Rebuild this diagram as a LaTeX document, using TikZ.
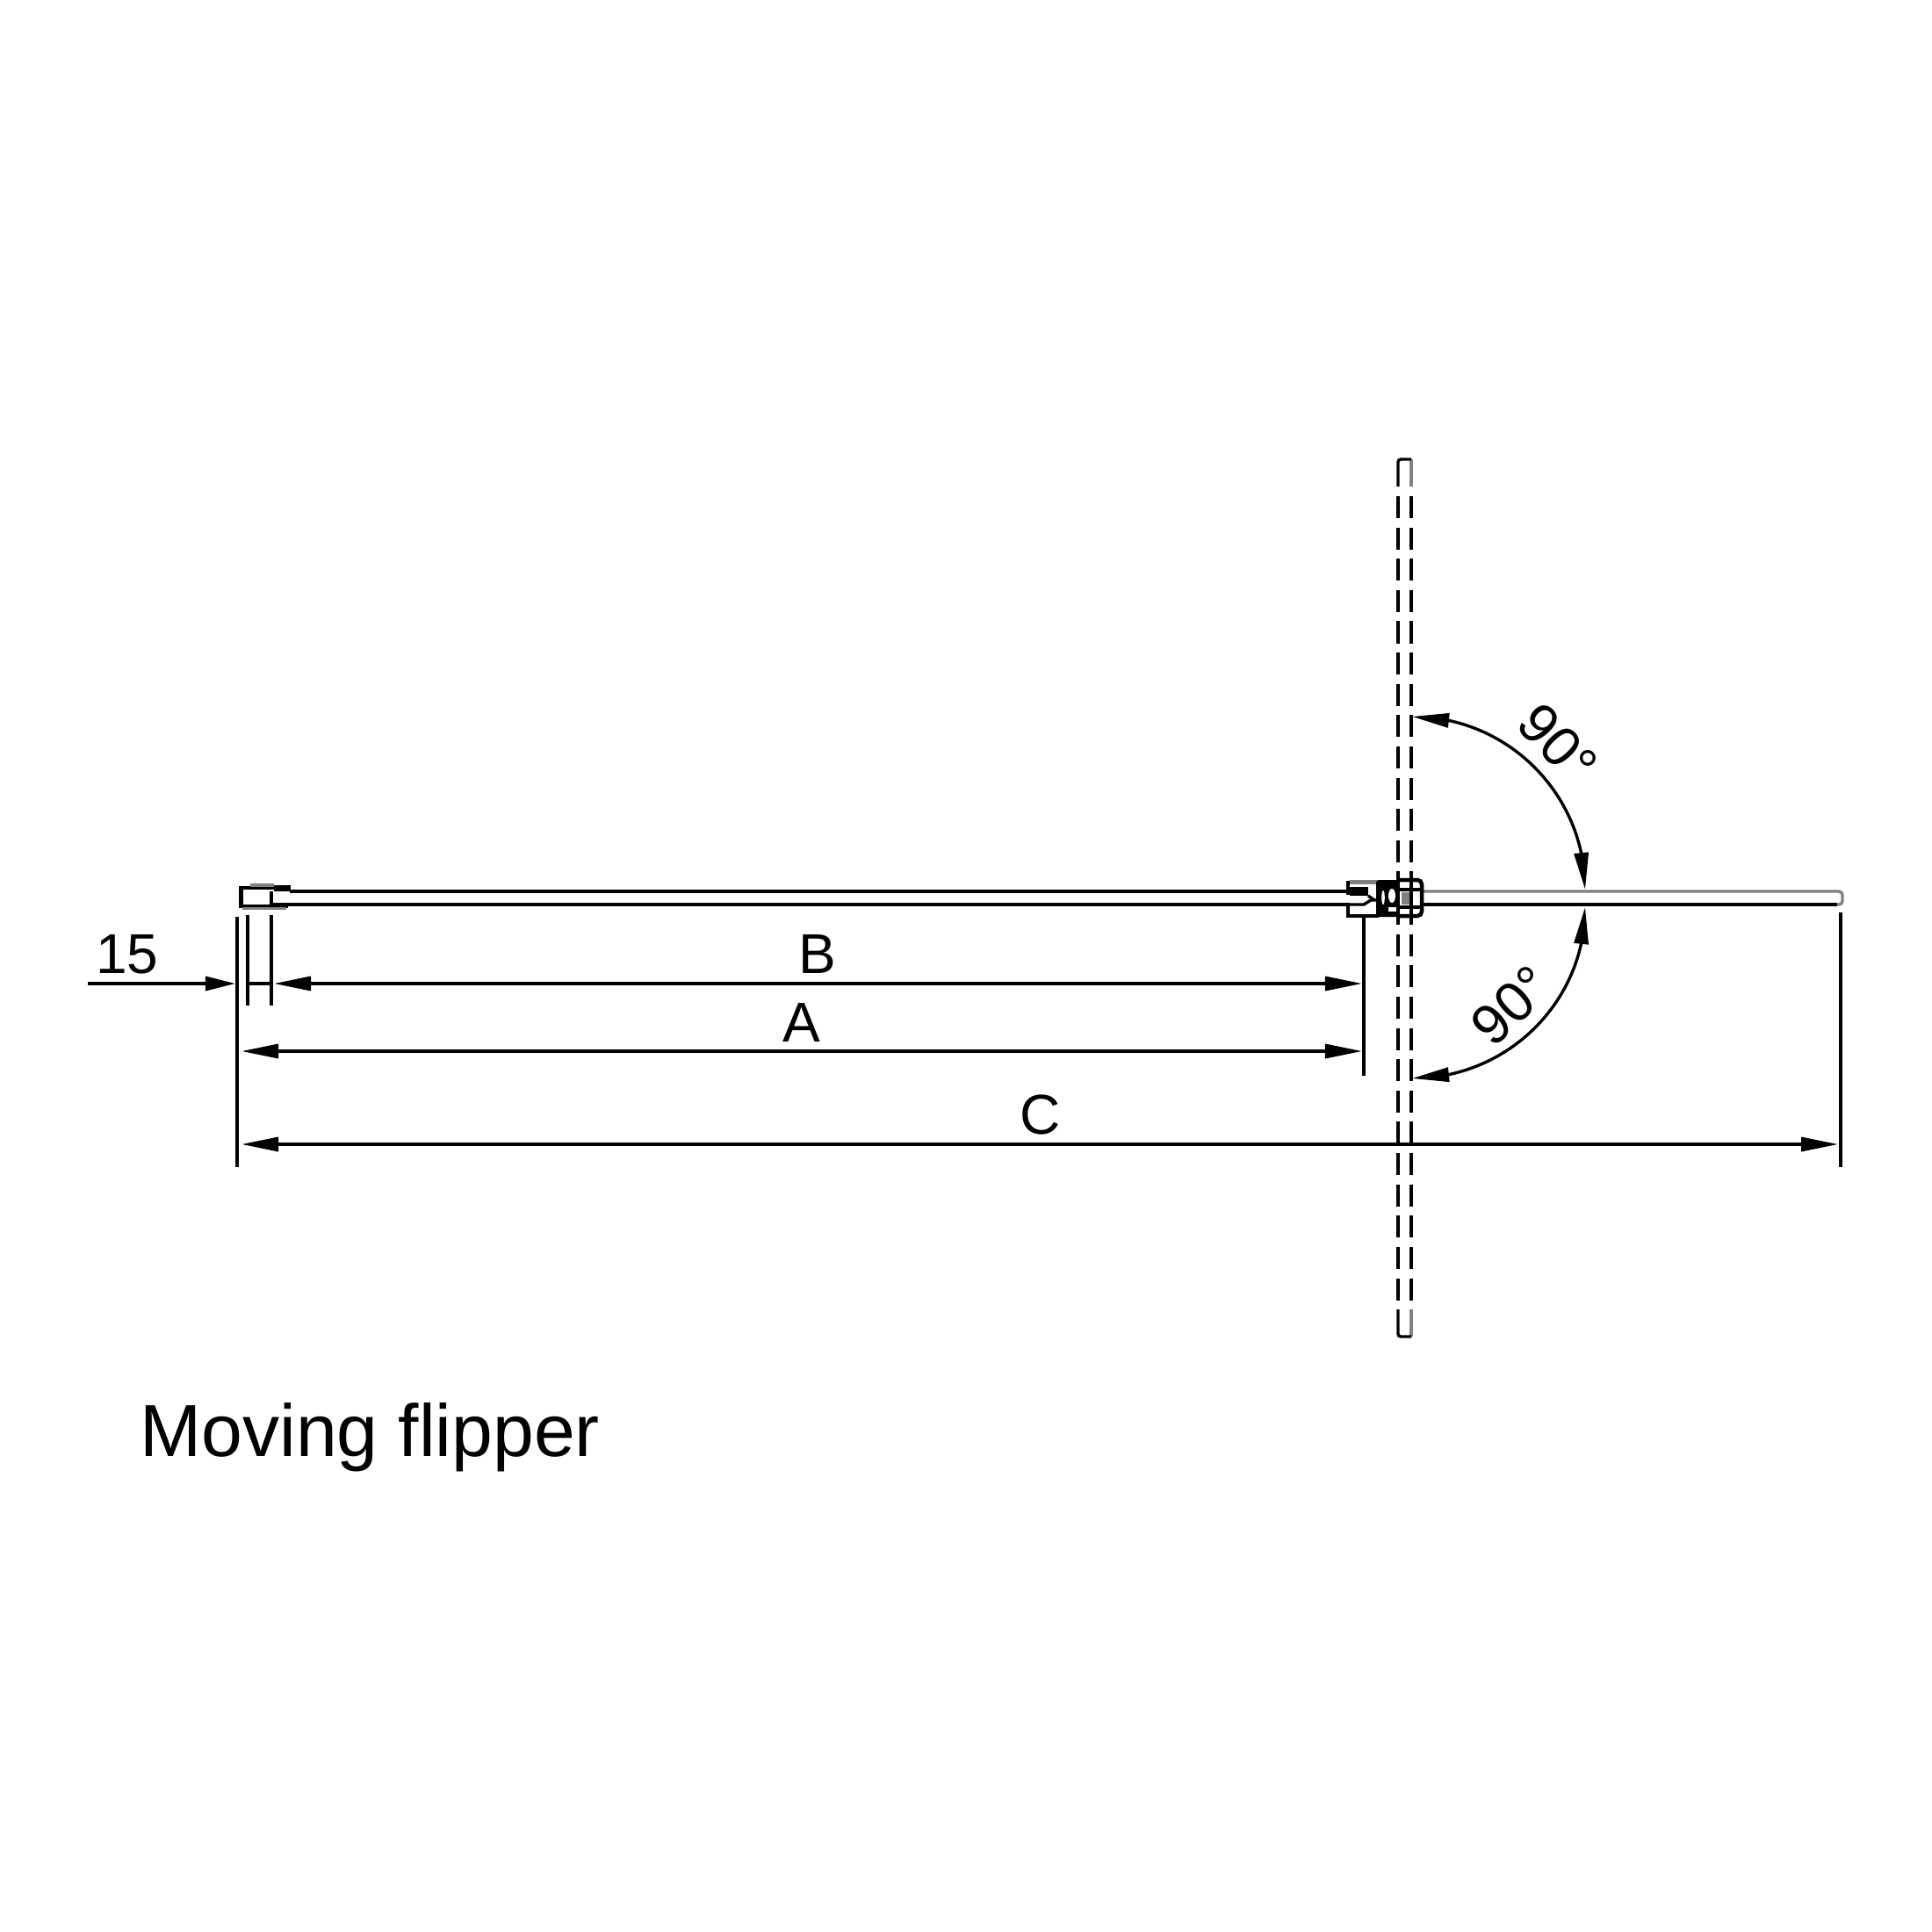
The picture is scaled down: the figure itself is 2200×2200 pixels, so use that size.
\documentclass[tikz,border=0pt]{standalone}
\usepackage{fontspec}
\setmainfont{Liberation Sans}
\usetikzlibrary{arrows.meta,bending}
\definecolor{bargray}{gray}{0.5}
\tikzset{
  dimline/.style={black, line width=0.034cm},
  dimarrow/.style={dimline, {Triangle[length=0.42cm,width=0.16cm]}-{Triangle[length=0.42cm,width=0.16cm]}},
  dimtext/.style={font=\fontsize{18.2}{22}\selectfont, inner sep=0pt, anchor=base},
  bodyline/.style={black, line width=0.034cm},
  grayline/.style={bargray, line width=0.034cm},
  dashline/.style={bodyline, dash pattern=on 0.25cm off 0.106cm}
}
\begin{document}
\begin{tikzpicture}[x=0.01cm,y=-0.01cm]
\useasboundingbox (0,0) rectangle (2200,2200);
% flipper bar, both positions
\draw[bodyline] (330,1015) -- (1537,1015);
\draw[bodyline] (309,1015) -- (309,1030) -- (1537,1030);
\draw[grayline, rounded corners=0.04cm] (1620,1015) -- (2098,1015) -- (2098,1030) -- (2090,1030);
\draw[bodyline] (1620,1030) -- (2092,1030);
\foreach \x in {1592,1607}\draw[dashline] (\x,565) -- (\x,1481);
\draw[grayline] (1607,523) -- (1607,554);
\draw[grayline] (1607,1491) -- (1607,1522);
\draw[bodyline, rounded corners=0.03cm] (1592,554) -- (1592,523) -- (1607,523);
\draw[bodyline, rounded corners=0.03cm] (1592,1491) -- (1592,1522) -- (1607,1522);
% left wall fitting
\draw[black, line width=0.05cm] (274,1009) -- (274,1033);
\draw[bodyline] (272,1011) -- (330,1011);
\draw[grayline] (285,1008) -- (312,1008);
\fill[black] (312,1008) rectangle (331,1015);
\draw[bodyline] (272,1032) -- (328,1032);
\draw[grayline] (276,1034.5) -- (326,1034.5);
% hinge
\draw[grayline, line width=0.05cm] (1537,1004) -- (1568,1004);
\draw[bodyline] (1535,1003) -- (1535,1019);
\draw[bodyline, line width=0.04cm] (1535,1030) -- (1535,1043) -- (1570,1043);
\fill[black] (1537,1010) rectangle (1558,1020);
\draw[bodyline] (1535,1030) -- (1553,1030) -- (1561,1025) -- (1568,1025);
\draw[bodyline] (1558,1020) -- (1565,1025);
\fill[black, rounded corners=0.03cm] (1567,1002) rectangle (1593,1044);
\fill[white] (1575,1022) ellipse [x radius=1.8, y radius=8];
\fill[white] (1585,1020) ellipse [x radius=4, y radius=8];
\fill[white] (1581,1033) rectangle (1590,1038);
\draw[bodyline, line width=0.045cm, rounded corners=0.05cm] (1590,1002) -- (1619,1002) -- (1619,1043) -- (1590,1043);
\draw[bodyline, line width=0.045cm] (1590,1013) -- (1619,1013);
\draw[bodyline, line width=0.045cm] (1590,1033) -- (1619,1033);
\fill[bargray] (1596,1016) rectangle (1606,1030);
\foreach \x in {1592,1607}\draw[bodyline] (\x,1000) -- (\x,1052);
% dimensions
\coordinate (ExtLeftTop) at (270,1044);
\coordinate (ExtLeftBot) at (270,1329);
\coordinate (ExtInATop) at (282,1042);
\coordinate (ExtInABot) at (282,1145);
\coordinate (ExtInBTop) at (309,1042);
\coordinate (ExtInBBot) at (309,1145);
\coordinate (ExtMidTop) at (1553,1043);
\coordinate (ExtMidBot) at (1553,1225);
\coordinate (ExtEndTop) at (2096,1039);
\coordinate (ExtEndBot) at (2096,1329);
\draw[dimline] (ExtLeftTop) -- (ExtLeftBot);
\draw[dimline] (ExtInATop) -- (ExtInABot);
\draw[dimline] (ExtInBTop) -- (ExtInBBot);
\draw[dimline] (ExtMidTop) -- (ExtMidBot);
\draw[dimline] (ExtEndTop) -- (ExtEndBot);
\coordinate (Start15) at (100,1120);
\coordinate (Tip15) at (268,1120);
\coordinate (StartGap) at (282,1120);
\coordinate (EndGap) at (310,1120);
\draw[dimline, -{Triangle[length=0.34cm,width=0.16cm]}] (Start15) -- (Tip15);
\draw[dimline] (StartGap) -- (EndGap);
\coordinate (TipBL) at (312,1120);
\coordinate (TipBR) at (1551,1120);
\coordinate (TipAL) at (275,1197);
\coordinate (TipAR) at (1551,1197);
\coordinate (TipCL) at (275,1303);
\coordinate (TipCR) at (2093,1303);
\draw[dimarrow] (TipBL) -- (TipBR);
\draw[dimarrow] (TipAL) -- (TipAR);
\draw[dimarrow] (TipCL) -- (TipCR);
\coordinate (SwingUp) at (1608,816);
\coordinate (SwingDown) at (1608,1228);
\draw[dimarrow] (SwingUp) arc[start angle=-90,end angle=0,radius=197];
\draw[dimarrow] (SwingDown) arc[start angle=90,end angle=0,x radius=197,y radius=195];
% labels
\node[dimtext] (Label15) at (145,1108) {15};
\node[dimtext] (LabelB) at (931,1108) {B};
\node[dimtext] (LabelA) at (913,1186) {A};
\node[dimtext] (LabelC) at (1185,1291) {C};
\node[dimtext, anchor=center, rotate=-47] (LabelUp) at (1774,847) {90°};
\node[dimtext, anchor=center, rotate=43] (LabelDown) at (1721,1145) {90°};
\node[font=\fontsize{23.9}{28}\selectfont, inner sep=0pt, anchor=base west] (Caption) at (159,1658) {Moving flipper};
\end{tikzpicture}
\end{document}
